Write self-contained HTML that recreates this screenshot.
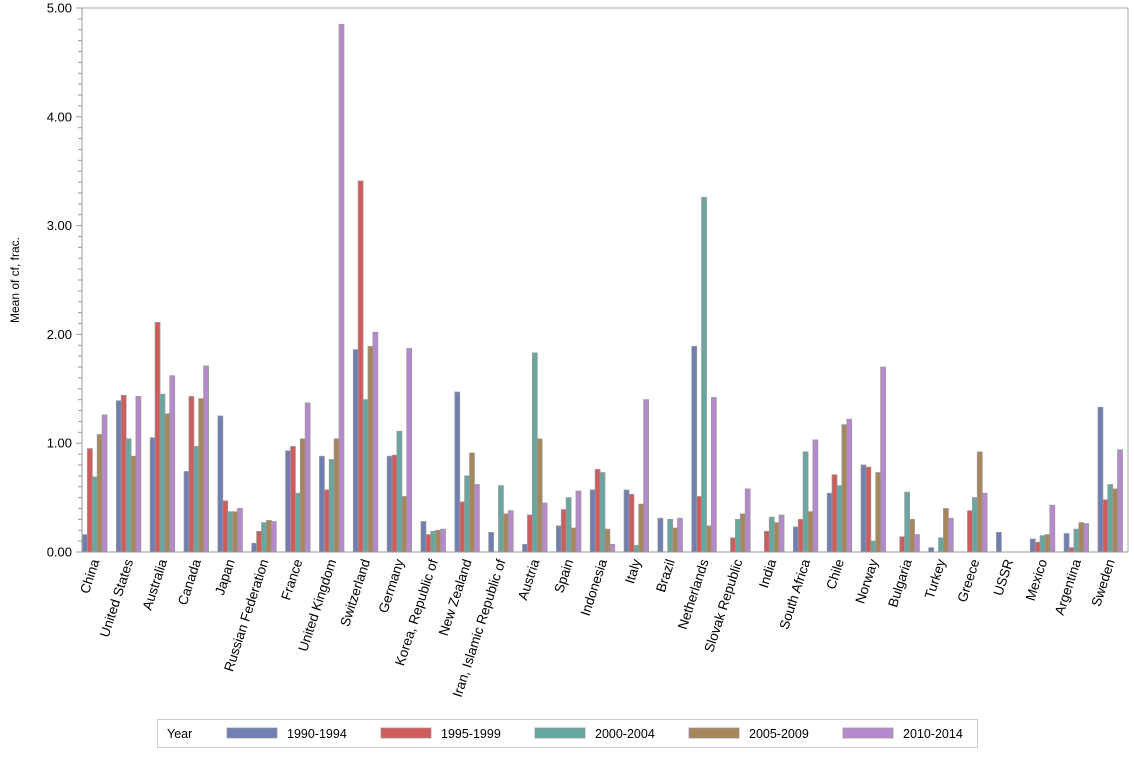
<!DOCTYPE html>
<html><head><meta charset="utf-8"><style>
body{margin:0;background:#fff;}
svg text{font-family:"Liberation Sans",sans-serif;fill:#000;}
</style></head><body>
<svg width="1134" height="756" viewBox="0 0 1134 756" xmlns="http://www.w3.org/2000/svg" id="s">
<rect x="0" y="0" width="1134" height="756" fill="#fff"/>
<g id="bars"></g>
<line x1="82" y1="8" x2="1128" y2="8" stroke="#aaa"/>
<line x1="1128" y1="8" x2="1128" y2="552" stroke="#aaa"/>
<line x1="82" y1="552" x2="1128" y2="552" stroke="#999"/>
<line x1="82" y1="8" x2="82" y2="552" stroke="#999"/>
<g id="ticks"></g>
<text transform="translate(19,280) rotate(-90)" text-anchor="middle" font-size="12">Mean of cf, frac.</text>
<g id="labels"></g>
<rect x="157.5" y="719.5" width="820" height="28" fill="#fff" stroke="#ccc"/>
<g id="legend"></g>
</svg>
<script>
const cols=["#6f7eb3","#d05b5b","#66a8a0","#a8865c","#b689cc"];
const d=[["China",[0.16,0.95,0.69,1.08,1.26]],["United States",[1.39,1.44,1.04,0.88,1.43]],["Australia",[1.05,2.11,1.45,1.27,1.62]],["Canada",[0.74,1.43,0.97,1.41,1.71]],["Japan",[1.25,0.47,0.37,0.37,0.40]],["Russian Federation",[0.08,0.19,0.27,0.29,0.28]],["France",[0.93,0.97,0.54,1.04,1.37]],["United Kingdom",[0.88,0.57,0.85,1.04,4.85]],["Switzerland",[1.86,3.41,1.40,1.89,2.02]],["Germany",[0.88,0.89,1.11,0.51,1.87]],["Korea, Republic of",[0.28,0.16,0.19,0.20,0.21]],["New Zealand",[1.47,0.46,0.70,0.91,0.62]],["Iran, Islamic Republic of",[0.18,null,0.61,0.35,0.38]],["Austria",[0.07,0.34,1.83,1.04,0.45]],["Spain",[0.24,0.39,0.50,0.22,0.56]],["Indonesia",[0.57,0.76,0.73,0.21,0.07]],["Italy",[0.57,0.53,0.06,0.44,1.40]],["Brazil",[0.31,null,0.30,0.22,0.31]],["Netherlands",[1.89,0.51,3.26,0.24,1.42]],["Slovak Republic",[null,0.13,0.30,0.35,0.58]],["India",[null,0.19,0.32,0.27,0.34]],["South Africa",[0.23,0.30,0.92,0.37,1.03]],["Chile",[0.54,0.71,0.61,1.17,1.22]],["Norway",[0.80,0.78,0.10,0.73,1.70]],["Bulgaria",[null,0.14,0.55,0.30,0.16]],["Turkey",[0.04,null,0.13,0.40,0.31]],["Greece",[null,0.38,0.50,0.92,0.54]],["USSR",[0.18,null,null,null,null]],["Mexico",[0.12,0.09,0.15,0.16,0.43]],["Argentina",[0.17,0.04,0.21,0.27,0.26]],["Sweden",[1.33,0.48,0.62,0.58,0.94]]];
const Y0=552,U=108.8,X0=82.5,G=33.85,BW=4.9;
let b="",l="",t="",lg="";
d.forEach((c,i)=>{const gx=X0+i*G;
c[1].forEach((v,j)=>{if(v==null)return;const h=v*U;
b+=`<rect x="${gx+j*BW}" y="${Y0-h}" width="${BW}" height="${h}" fill="${cols[j]}" stroke="#999" stroke-width="0.8"/>`;});
const cx=gx+12;
l+=`<text transform="translate(${cx+5},561) rotate(-72)" text-anchor="end" font-size="13.5">${c[0]}</text>`;});
for(let k=0;k<=50;k++){const y=Y0-k*U/10;const maj=k%10==0;
t+=`<line x1="${maj?76:78}" y1="${y}" x2="82" y2="${y}" stroke="#999"/>`;
if(maj)t+=`<text x="72" y="${y+4.5}" text-anchor="end" font-size="13">${(k/10).toFixed(2)}</text>`;}
lg+=`<text x="167" y="738" font-size="12.5">Year</text>`;
["1990-1994","1995-1999","2000-2004","2005-2009","2010-2014"].forEach((n,j)=>{const x=227+j*154;
lg+=`<rect x="${x}" y="728" width="50" height="10" fill="${cols[j]}" stroke="#999" stroke-width="0.8"/><text x="${x+60}" y="738" font-size="12.5">${n}</text>`;});
document.getElementById("bars").innerHTML=b;document.getElementById("labels").innerHTML=l;
document.getElementById("ticks").innerHTML=t;document.getElementById("legend").innerHTML=lg;
</script>
</body></html>
